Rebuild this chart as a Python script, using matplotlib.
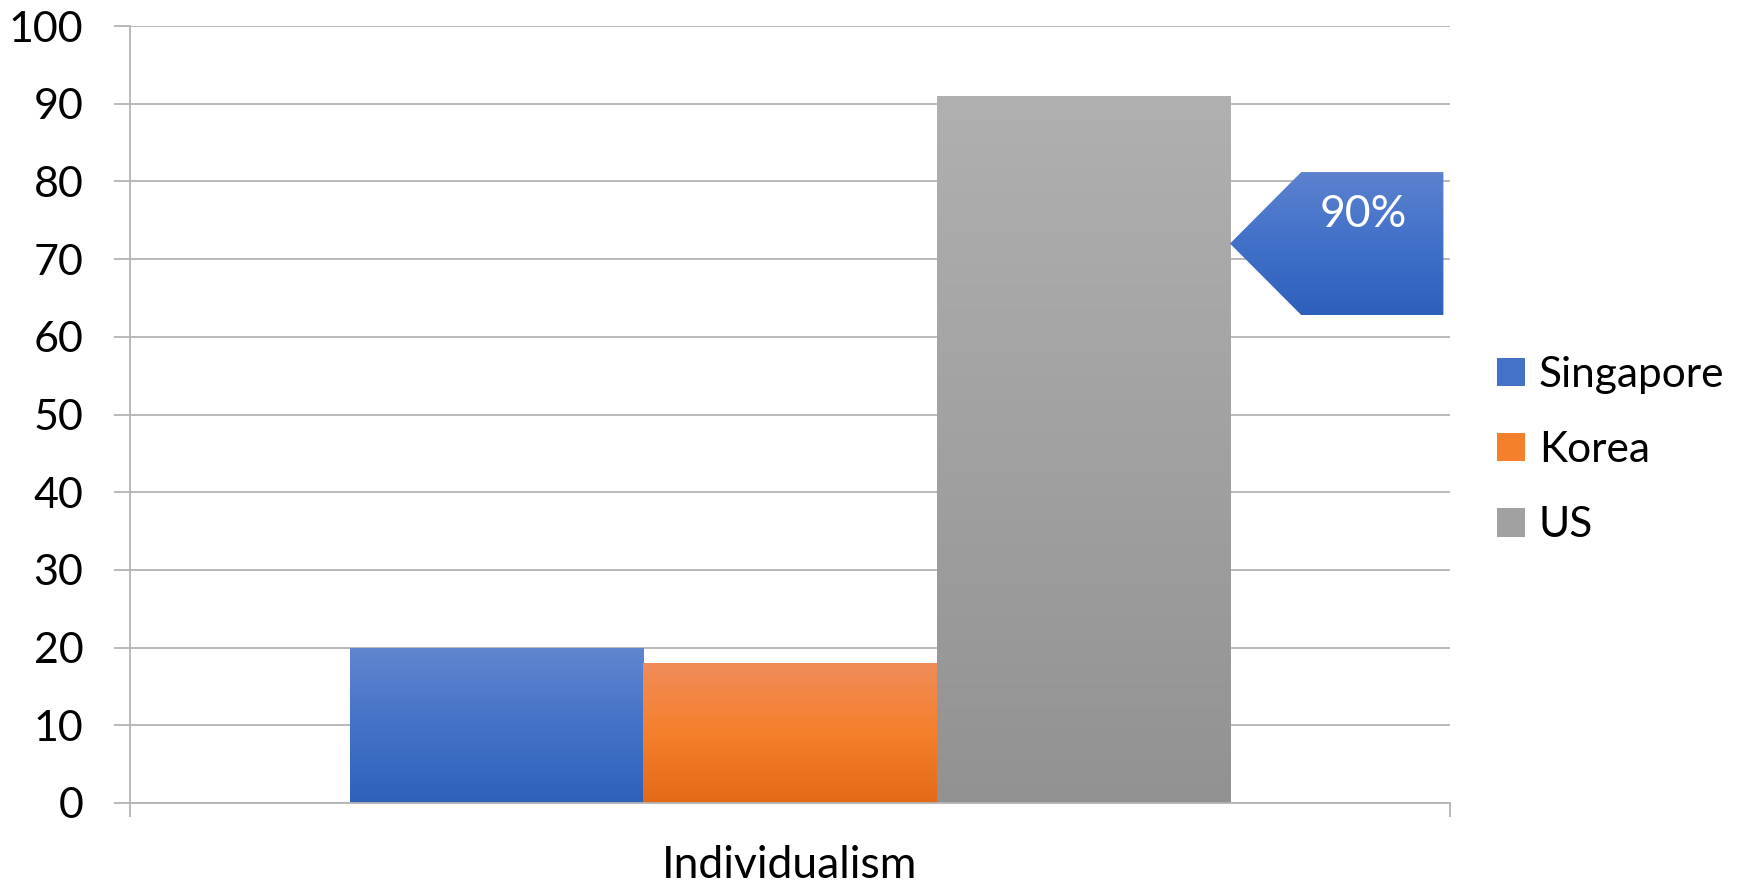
import numpy as np
import matplotlib.pyplot as plt
from matplotlib.colors import to_rgb
from matplotlib.patches import Polygon, Patch

plt.rcParams['font.family'] = ['Lato', 'DejaVu Sans']

# data
category = "Individualism"
countries = ["Singapore", "Korea", "US"]
scores = [20, 18, 91]
callout_text = "90%"
callout_level = 72

# gradient stops (top, middle, bottom) for each series
bar_stops = [
    ["#6186cf", "#4472c8", "#2f61b9"],
    ["#f08c5a", "#f5802b", "#e46917"],
    ["#b0b0b0", "#a1a1a1", "#929292"],
]
callout_stops = ["#5c82cf", "#4170c8", "#2e60bb"]
grid_color = "#b3b3b3"


def gradient_fill(ax, patch, stops, extent):
    n = 256
    t = np.linspace(0, 1, n)
    cols = np.array([to_rgb(c) for c in stops])
    pos = np.linspace(0, 1, len(stops))
    img = np.stack([np.interp(t, pos, cols[:, k]) for k in range(3)], axis=-1)
    img = img[:, None, :]
    im = ax.imshow(img, extent=extent, aspect="auto", origin="upper",
                   zorder=patch.get_zorder(), interpolation="bilinear")
    im.set_clip_path(patch)


fig = plt.figure(figsize=(17.41, 8.86), dpi=100)
ax = fig.add_axes([130 / 1741, 83 / 886, 1320 / 1741, 777 / 886])

group_width = 1 / 1.5
bar_w = group_width / len(countries)
x0 = 0.5 - group_width / 2
for i, (name, val) in enumerate(zip(countries, scores)):
    left = x0 + i * bar_w
    bar = ax.bar(left, val, width=bar_w, align="edge", color="none",
                 edgecolor="none", zorder=2)[0]
    gradient_fill(ax, bar, bar_stops[i], [left, left + bar_w, 0, val])

# callout arrow box pointing at the US bar
tip_x = x0 + len(countries) * bar_w
box_l = tip_x + 0.054
box_r = 0.995
box_t = callout_level + 9.2
box_b = callout_level - 9.2
shape = Polygon([(tip_x, callout_level), (box_l, box_t), (box_r, box_t),
                 (box_r, box_b), (box_l, box_b)], closed=True,
                facecolor="none", edgecolor="none", zorder=3, clip_on=False)
ax.add_patch(shape)
gradient_fill(ax, shape, callout_stops, [tip_x, box_r, box_b, box_t])
ax.text(0.934, callout_level + 3.7, callout_text, color="white",
        fontsize=32, ha="center", va="center", zorder=4)

ax.set_xlim(0, 1)
ax.set_ylim(0, 100)
ax.set_yticks(range(0, 101, 10))
ax.yaxis.grid(True, color=grid_color, linewidth=1.3)
ax.set_axisbelow(True)
ax.tick_params(axis="y", length=11.5, width=1.3, color=grid_color,
               labelsize=31, pad=22)
ax.set_xticks([0.5], [category])
ax.set_xticks([0, 1], minor=True)
ax.tick_params(axis="x", which="major", length=0, labelsize=32, pad=30)
ax.tick_params(axis="x", which="minor", length=10, width=1.3,
               color=grid_color)

for s in ["top", "right"]:
    ax.spines[s].set_visible(False)
ax.spines["left"].set_color(grid_color)
ax.spines["left"].set_linewidth(1.3)
ax.spines["bottom"].set_color(grid_color)
ax.spines["bottom"].set_linewidth(1.3)

handles = [Patch(facecolor=s[1], edgecolor="none") for s in bar_stops]
fig.legend(handles, countries, loc="center left",
           bbox_to_anchor=(1497 / 1741, 0.492), frameon=False,
           fontsize=30.5, handlelength=0.66, handleheight=0.66,
           handletextpad=0.33, labelspacing=0.88, borderpad=0,
           borderaxespad=0)

fig.savefig("out.png", dpi=100)
